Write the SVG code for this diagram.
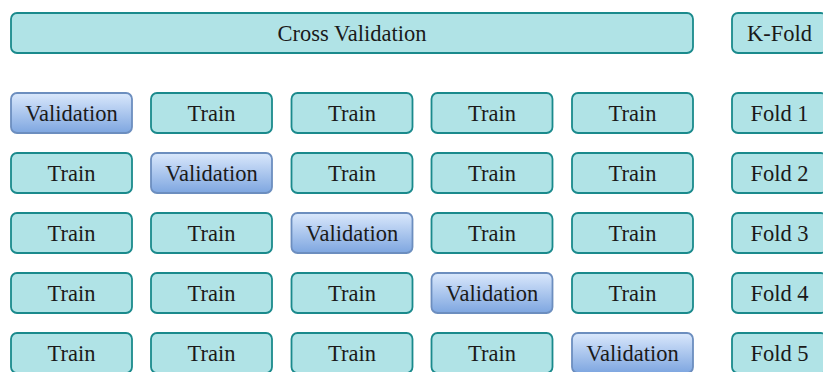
<svg xmlns="http://www.w3.org/2000/svg" width="823" height="372" viewBox="0 0 823 372">
<defs>
<linearGradient id="vg" x1="0" y1="0" x2="0" y2="1">
<stop offset="0" stop-color="#dae8fc"/>
<stop offset="1" stop-color="#7ea6e0"/>
</linearGradient>
<style>
.t rect{fill:#b0e3e6;stroke:#1a8a8c;stroke-width:1.8}
.v rect{fill:url(#vg);stroke:#6c8ebf;stroke-width:1.8}
text{font-family:"Liberation Serif","Times New Roman",serif;font-size:22.5px;fill:#1a1a1a;text-anchor:middle}
</style>
</defs>
<rect width="823" height="372" fill="#ffffff"/>
<g id="connectors"/>
<g id="cv" class="t"><rect x="11" y="13" width="682" height="40" rx="6"/><text x="352" y="41">Cross Validation</text></g>
<g id="kfold" class="t"><rect x="732" y="13" width="95" height="40" rx="6"/><text x="779.5" y="41">K-Fold</text></g>

<g id="r1c1" class="v"><rect x="11" y="93" width="121" height="40" rx="6"/><text x="71.5" y="121">Validation</text></g>
<g id="r1c2" class="t"><rect x="151" y="93" width="121" height="40" rx="6"/><text x="211.5" y="121">Train</text></g>
<g id="r1c3" class="t"><rect x="291.5" y="93" width="121" height="40" rx="6"/><text x="352" y="121">Train</text></g>
<g id="r1c4" class="t"><rect x="431.5" y="93" width="121" height="40" rx="6"/><text x="492" y="121">Train</text></g>
<g id="r1c5" class="t"><rect x="572" y="93" width="121" height="40" rx="6"/><text x="632.5" y="121">Train</text></g>
<g id="fold1" class="t"><rect x="732" y="93" width="95" height="40" rx="6"/><text x="779.5" y="121">Fold 1</text></g>

<g id="r2c1" class="t"><rect x="11" y="153" width="121" height="40" rx="6"/><text x="71.5" y="181">Train</text></g>
<g id="r2c2" class="v"><rect x="151" y="153" width="121" height="40" rx="6"/><text x="211.5" y="181">Validation</text></g>
<g id="r2c3" class="t"><rect x="291.5" y="153" width="121" height="40" rx="6"/><text x="352" y="181">Train</text></g>
<g id="r2c4" class="t"><rect x="431.5" y="153" width="121" height="40" rx="6"/><text x="492" y="181">Train</text></g>
<g id="r2c5" class="t"><rect x="572" y="153" width="121" height="40" rx="6"/><text x="632.5" y="181">Train</text></g>
<g id="fold2" class="t"><rect x="732" y="153" width="95" height="40" rx="6"/><text x="779.5" y="181">Fold 2</text></g>

<g id="r3c1" class="t"><rect x="11" y="213" width="121" height="40" rx="6"/><text x="71.5" y="241">Train</text></g>
<g id="r3c2" class="t"><rect x="151" y="213" width="121" height="40" rx="6"/><text x="211.5" y="241">Train</text></g>
<g id="r3c3" class="v"><rect x="291.5" y="213" width="121" height="40" rx="6"/><text x="352" y="241">Validation</text></g>
<g id="r3c4" class="t"><rect x="431.5" y="213" width="121" height="40" rx="6"/><text x="492" y="241">Train</text></g>
<g id="r3c5" class="t"><rect x="572" y="213" width="121" height="40" rx="6"/><text x="632.5" y="241">Train</text></g>
<g id="fold3" class="t"><rect x="732" y="213" width="95" height="40" rx="6"/><text x="779.5" y="241">Fold 3</text></g>

<g id="r4c1" class="t"><rect x="11" y="273" width="121" height="40" rx="6"/><text x="71.5" y="301">Train</text></g>
<g id="r4c2" class="t"><rect x="151" y="273" width="121" height="40" rx="6"/><text x="211.5" y="301">Train</text></g>
<g id="r4c3" class="t"><rect x="291.5" y="273" width="121" height="40" rx="6"/><text x="352" y="301">Train</text></g>
<g id="r4c4" class="v"><rect x="431.5" y="273" width="121" height="40" rx="6"/><text x="492" y="301">Validation</text></g>
<g id="r4c5" class="t"><rect x="572" y="273" width="121" height="40" rx="6"/><text x="632.5" y="301">Train</text></g>
<g id="fold4" class="t"><rect x="732" y="273" width="95" height="40" rx="6"/><text x="779.5" y="301">Fold 4</text></g>

<g id="r5c1" class="t"><rect x="11" y="333" width="121" height="40" rx="6"/><text x="71.5" y="361">Train</text></g>
<g id="r5c2" class="t"><rect x="151" y="333" width="121" height="40" rx="6"/><text x="211.5" y="361">Train</text></g>
<g id="r5c3" class="t"><rect x="291.5" y="333" width="121" height="40" rx="6"/><text x="352" y="361">Train</text></g>
<g id="r5c4" class="t"><rect x="431.5" y="333" width="121" height="40" rx="6"/><text x="492" y="361">Train</text></g>
<g id="r5c5" class="v"><rect x="572" y="333" width="121" height="40" rx="6"/><text x="632.5" y="361">Validation</text></g>
<g id="fold5" class="t"><rect x="732" y="333" width="95" height="40" rx="6"/><text x="779.5" y="361">Fold 5</text></g>
</svg>
